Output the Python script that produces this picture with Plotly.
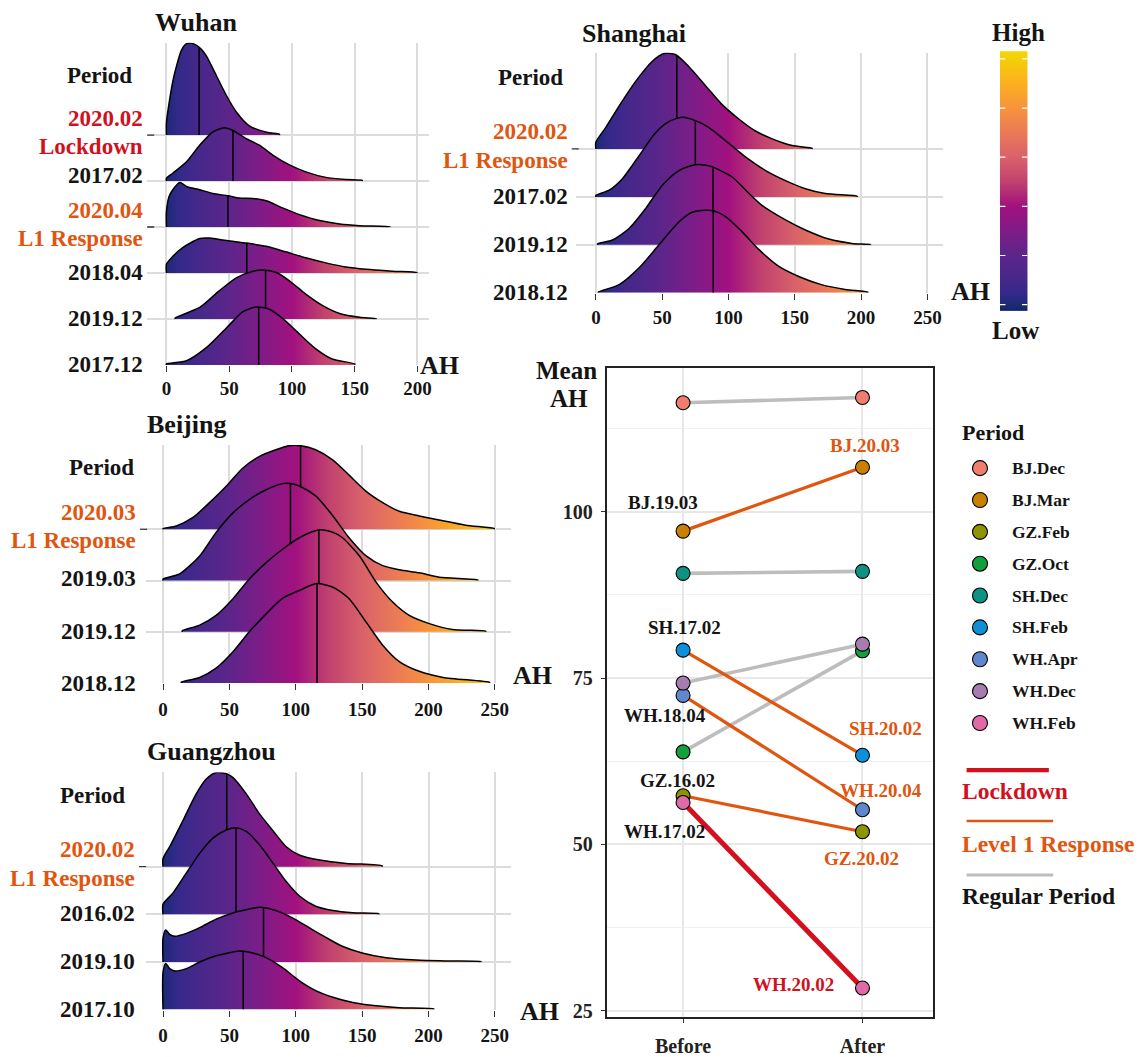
import numpy as np
import plotly.graph_objects as go

W, H = 1141, 1057
SERIF = "Liberation Serif"
RED = "#d2101e"
ORANGE = "#e0550f"
GREY = "#bdbdbd"
INK = "#141414"
GRID = "#dcdcdc"

# ---------------- shared AH colour scale (ridge fills and colour bar) ----------------
ah_stops = [-6.4, 0, 10, 25, 50, 75, 100, 125, 150, 175, 200, 225, 257.7]
ah_colors = ["#14266a", "#1c2a76", "#33298a", "#45288a", "#5c258a", "#7f1c87", "#a2117f",
             "#c1426e", "#d9626a", "#ea7a56", "#f7943c", "#fcb020", "#f2d800"]
AH_MIN, AH_MAX = ah_stops[0], ah_stops[-1]
colorscale = [[(v - AH_MIN) / (AH_MAX - AH_MIN), c] for v, c in zip(ah_stops, ah_colors)]
colorbar_ticks = [0, 50, 100, 150, 200, 250]

# ---------------- ridge densities (x = AH, h = density height in row units) ----------------
# Wuhan
wh_periods = ["2020.02", "2017.02", "2020.04", "2018.04", "2019.12", "2017.12"]
wh_tags = ["Lockdown", "", "L1 Response", "", "", ""]
wh_x = [
    [0, 2.6, 5.3, 8, 12, 16, 20, 24, 28, 32, 40, 48, 56, 66, 80, 90],
    [0, 5, 16, 26.5, 37, 46, 53, 63.6, 74, 85, 98, 111, 127, 143, 156],
    [0, 2.6, 10.6, 16, 26.5, 37, 49, 58, 69, 79.5, 93, 106, 122, 138, 154, 178],
    [0, 2.6, 13, 26.5, 34.5, 48, 64, 79.5, 95, 111, 127, 143, 159, 180, 199.5],
    [7, 26.5, 42, 56, 69, 79, 87.5, 98, 111, 124.5, 138, 154, 167],
    [0, 16, 32, 48, 61, 71.5, 82, 93, 106, 119, 132, 150],
]
wh_h = [
    [0.27, 0.78, 1.2, 1.5, 1.85, 1.99, 2.0, 1.95, 1.86, 1.71, 1.28, 0.85, 0.49, 0.2, 0.06, 0.02],
    [0.06, 0.17, 0.42, 0.78, 1.07, 1.16, 1.10, 0.92, 0.78, 0.56, 0.35, 0.2, 0.08, 0.035, 0.015],
    [0.34, 0.70, 0.97, 0.88, 0.81, 0.73, 0.68, 0.63, 0.62, 0.57, 0.41, 0.27, 0.14, 0.065, 0.03, 0.007],
    [0.19, 0.29, 0.55, 0.75, 0.76, 0.705, 0.65, 0.58, 0.46, 0.33, 0.22, 0.13, 0.08, 0.04, 0.01],
    [0.02, 0.25, 0.61, 0.90, 1.04, 1.06, 1.01, 0.83, 0.54, 0.29, 0.12, 0.036, 0.007],
    [0.02, 0.09, 0.38, 0.81, 1.16, 1.26, 1.21, 1.0, 0.67, 0.35, 0.13, 0.02],
]
wh_median = [26, 53, 49, 64, 79, 73.5]

# Shanghai
sh_periods = ["2020.02", "2017.02", "2019.12", "2018.12"]
sh_tags = ["L1 Response", "", "", ""]
sh_x = [
    [0, 7.5, 17.6, 30, 42.6, 51.4, 60, 70, 83, 95, 108, 120, 133, 148, 163],
    [0, 10, 20, 32.6, 45, 55, 65, 75, 85, 98, 113, 128, 143, 158, 173, 197],
    [1.3, 12.5, 25, 37.6, 50, 62.7, 75, 83, 88.3, 103, 113, 125, 143, 158, 175.6, 193, 207],
    [1.8, 17.6, 32.6, 47.6, 62.7, 72.7, 82.8, 88.5, 97.8, 110, 123, 138, 153, 170, 188, 205],
]
sh_h = [
    [0.14, 0.45, 0.90, 1.41, 1.83, 1.99, 1.97, 1.72, 1.31, 0.93, 0.62, 0.38, 0.21, 0.07, 0.014],
    [0.03, 0.14, 0.38, 0.86, 1.34, 1.57, 1.66, 1.59, 1.45, 1.17, 0.83, 0.55, 0.34, 0.17, 0.07, 0.014],
    [0.02, 0.10, 0.34, 0.76, 1.24, 1.55, 1.67, 1.66, 1.62, 1.41, 1.14, 0.83, 0.52, 0.31, 0.12, 0.03, 0.007],
    [0.014, 0.17, 0.52, 1.0, 1.48, 1.68, 1.72, 1.71, 1.59, 1.28, 0.90, 0.55, 0.34, 0.17, 0.07, 0.014],
]
sh_median = [61, 75, 88.3, 88.5]

# Beijing
bj_periods = ["2020.03", "2019.03", "2019.12", "2018.12"]
bj_tags = ["L1 Response", "", "", ""]
bj_x = [
    [0, 10, 22.6, 35, 47.6, 60, 72.7, 85, 95, 103.6, 115, 128, 140, 153, 165.5, 178, 193, 208, 228, 249.5],
    [0, 12.5, 27.6, 40, 52.7, 65, 77.7, 90, 96, 103, 115, 128, 140, 153, 165.5, 178, 193, 208, 237],
    [14.5, 27.6, 40, 52.7, 65, 77.7, 90, 103, 118, 128, 135, 148, 160.5, 173, 185.5, 200.6, 218, 243],
    [13.8, 27.6, 40, 52.7, 65, 77.7, 90, 103, 115.6, 128, 140, 153, 165.5, 178, 193, 211, 246],
]
bj_h = [
    [0.013, 0.065, 0.23, 0.52, 0.84, 1.19, 1.42, 1.55, 1.63, 1.63, 1.55, 1.35, 1.06, 0.74, 0.52, 0.35, 0.26, 0.18, 0.08, 0.013],
    [0.03, 0.13, 0.48, 0.94, 1.32, 1.58, 1.77, 1.89, 1.89, 1.84, 1.65, 1.26, 0.84, 0.48, 0.29, 0.21, 0.15, 0.065, 0.013],
    [0.02, 0.13, 0.32, 0.645, 1.03, 1.35, 1.61, 1.84, 1.99, 1.94, 1.84, 1.48, 0.97, 0.58, 0.32, 0.16, 0.045, 0.013],
    [0.02, 0.11, 0.29, 0.61, 1.0, 1.35, 1.65, 1.81, 1.94, 1.87, 1.65, 1.19, 0.74, 0.42, 0.23, 0.11, 0.013],
]
bj_median = [103.6, 96, 117.4, 116]

# Guangzhou
gz_periods = ["2020.02", "2016.02", "2019.10", "2017.10"]
gz_tags = ["L1 Response", "", "", ""]
gz_x = [
    [0, 5, 15, 25, 32.6, 40, 48, 52.7, 62.7, 72.7, 82.7, 92.8, 103, 118, 138, 165],
    [0, 7.5, 17.6, 27.6, 37.6, 47.6, 55, 62.7, 72.7, 82.7, 92.8, 103, 115, 128, 143, 162.5],
    [0, 2, 5, 9, 17.6, 27.6, 40, 52.7, 65, 72.7, 85, 97.8, 110, 123, 135, 150, 168, 190.6, 215.6, 239.5],
    [0, 2, 5, 9, 17.6, 27.6, 40, 47.6, 57.7, 67.7, 77.7, 90, 103, 115, 128, 143, 160.5, 178, 204],
]
gz_h = [
    [0.17, 0.42, 0.97, 1.53, 1.84, 1.98, 1.95, 1.87, 1.53, 1.11, 0.76, 0.42, 0.24, 0.14, 0.07, 0.02],
    [0.21, 0.45, 0.87, 1.28, 1.60, 1.77, 1.82, 1.74, 1.46, 1.08, 0.69, 0.38, 0.17, 0.08, 0.035, 0.014],
    [0.5, 0.67, 0.58, 0.54, 0.6, 0.72, 0.9, 1.03, 1.11, 1.15, 1.08, 0.92, 0.72, 0.51, 0.33, 0.19, 0.09, 0.04, 0.02, 0.007],
    [0.78, 0.97, 0.86, 0.81, 0.86, 1.0, 1.13, 1.18, 1.23, 1.19, 1.09, 0.88, 0.6, 0.4, 0.26, 0.15, 0.08, 0.04, 0.014],
]
gz_median = [48, 55, 75.7, 60.4]

# ---------------- mean AH before / after ----------------
groups = ["BJ.Dec", "BJ.Mar", "GZ.Feb", "GZ.Oct", "SH.Dec", "SH.Feb", "WH.Apr", "WH.Dec", "WH.Feb"]
group_colors = ["#f07e6e", "#c98000", "#8c9400", "#13a03c", "#0e9383", "#0f8fd8",
                "#5f88cc", "#a67cb1", "#e06aa5"]
mean_before = [116.4, 97.1, 57.3, 63.9, 90.75, 79.2, 72.4, 74.25, 56.3]
mean_after = [117.2, 106.7, 51.9, 79.1, 91.05, 63.4, 55.2, 80.1, 28.4]
period_type = ["Regular", "Level 1", "Level 1", "Regular", "Regular", "Level 1",
               "Level 1", "Regular", "Lockdown"]
type_names = ["Regular", "Level 1", "Lockdown"]
type_legend = ["Regular Period", "Level 1 Response", "Lockdown"]
type_colors = [GREY, ORANGE, RED]
type_widths = [3.6, 3.2, 5.0]

# point labels: (text, group, side, dx px, dy px, colour)
point_labels = [
    ("BJ.20.03", "BJ.Mar", 2, 3, 22, ORANGE),
    ("BJ.19.03", "BJ.Mar", 1, -20, 29, INK),
    ("SH.17.02", "SH.Feb", 1, 1, 23, INK),
    ("WH.18.04", "WH.Apr", 1, -18, -20, INK),
    ("SH.20.02", "SH.Feb", 2, 23, 27, ORANGE),
    ("GZ.16.02", "GZ.Feb", 1, -6, 15, INK),
    ("WH.20.04", "WH.Apr", 2, 19, 19, ORANGE),
    ("WH.17.02", "WH.Feb", 1, -19, -29, INK),
    ("GZ.20.02", "GZ.Feb", 2, -1, -27, ORANGE),
    ("WH.20.02", "WH.Feb", 2, -69, 3, RED),
]


def px_x(p):
    return p / W


def px_y(p):
    return 1 - p / H


def bold(size, color=INK):
    return dict(family=SERIF, size=size, color=color, weight="bold")


def label(text, x, y, size, color=INK, xanchor="center", **kw):
    """Text placed at a pixel position of the page."""
    d = dict(text=text, xref="paper", yref="paper", x=px_x(x), y=px_y(y),
             xanchor=xanchor, yanchor="middle", showarrow=False, font=bold(size, color),
             align="center")
    d.update(kw)
    return d


fig = go.Figure()
annotations = []
shapes = []

panels = [
    dict(title="Wuhan", periods=wh_periods, tags=wh_tags, xs=wh_x, hs=wh_h, med=wh_median,
         n="", xdom=(147, 430), ydom=(43, 367.7), xr=(-15.7, 209.4), ytop=7.01,
         xticks=[0, 50, 100, 150, 200], lab_r=145.5, title_xy=(196, 23),
         period_xy=(100, 76), ah_xy=(440, 368), stand=0, lift=[0, 6, 0, 0, 0, 0]),
    dict(title="Shanghai", periods=sh_periods, tags=sh_tags, xs=sh_x, hs=sh_h, med=sh_median,
         n="2", xdom=(577, 945), ydom=(53, 295), xr=(-15, 262), ytop=5.01,
         xticks=[0, 50, 100, 150, 200, 250], lab_r=570.7, title_xy=(635, 34),
         period_xy=(531, 78), ah_xy=(972, 294), stand=1, lift=[0, 0, 0, 0]),
    dict(title="Beijing", periods=bj_periods, tags=bj_tags, xs=bj_x, hs=bj_h, med=bj_median,
         n="3", xdom=(146.7, 511.7), ydom=(448.3, 688.3), xr=(-12.5, 262), ytop=4.645,
         xticks=[0, 50, 100, 150, 200, 250], lab_r=138.3, title_xy=(187, 428),
         period_xy=(102, 471), ah_xy=(533, 681), stand=3, lift=[0, 2.5, 0, 0]),
    dict(title="Guangzhou", periods=gz_periods, tags=gz_tags, xs=gz_x, hs=gz_h, med=gz_median,
         n="4", xdom=(146.7, 511.7), ydom=(778.3, 1017.3), xr=(-12.5, 262), ytop=4.98,
         xticks=[0, 50, 100, 150, 200, 250], lab_r=137.3, title_xy=(212, 757),
         period_xy=(93, 802), ah_xy=(540, 1019), stand=3, lift=[0, 1, 0, 0]),
]

for p in panels:
    xa, ya = "x" + p["n"], "y" + p["n"]
    n_rows = len(p["periods"])
    for i, (x, h) in enumerate(zip(p["xs"], p["hs"])):
        base = n_rows - 1 - i
        xx = [x[0]] + list(x) + [x[-1]]
        yy = [base] + [base + v for v in h] + [base]
        # baseline the ridge is filled down to
        fig.add_trace(go.Scatter(x=[xx[0], xx[-1]], y=[base, base], mode="lines",
                                 line=dict(width=0, color="rgba(0,0,0,0)"),
                                 xaxis=xa, yaxis=ya, showlegend=False, hoverinfo="skip"))
        fig.add_trace(go.Scatter(
            x=xx, y=yy, mode="lines", fill="tonexty",
            fillgradient=dict(type="horizontal", colorscale=colorscale,
                              start=AH_MIN, stop=AH_MAX),
            line=dict(color="black", width=1.5, shape="spline", smoothing=0.7),
            xaxis=xa, yaxis=ya, showlegend=False, hoverinfo="skip"))
        m = p["med"][i]
        top = base + float(np.interp(m, x, h))
        fig.add_trace(go.Scatter(x=[m, m], y=[base, top], mode="lines",
                                 line=dict(color="black", width=1.5),
                                 xaxis=xa, yaxis=ya, showlegend=False, hoverinfo="skip"))
        # period label on the left (two lines for the response periods)
        tag = p["tags"][i]
        common = dict(xref="paper", yref=ya, x=px_x(p["lab_r"]), y=base,
                      xanchor="right", yanchor="middle", showarrow=False)
        if tag:
            col = RED if tag == "Lockdown" else ORANGE
            annotations.append(dict(text=p["periods"][i], yshift=17,
                                    font=bold(23, col), **common))
            annotations.append(dict(text=tag, yshift=-11.5, font=bold(23, col), **common))
            shapes.append(dict(type="line", xref="paper", yref=ya,
                               x0=px_x(p["lab_r"] + 2), x1=px_x(p["lab_r"] + 9),
                               y0=base, y1=base, line=dict(color="#333", width=1.3)))
        else:
            annotations.append(dict(text=p["periods"][i], yshift=p["lift"][i],
                                    font=bold(23), **common))

    fig.update_layout(**{
        ("xaxis" + p["n"]): dict(domain=[px_x(p["xdom"][0]), px_x(p["xdom"][1])], anchor=ya,
                                 range=list(p["xr"]), tickvals=p["xticks"], ticks="outside",
                                 ticklen=6, tickwidth=1.3, tickcolor="#333",
                                 showgrid=True, gridcolor=GRID, gridwidth=1.6, zeroline=False,
                                 showline=False, tickfont=bold(19), ticklabelstandoff=p["stand"]),
        ("yaxis" + p["n"]): dict(domain=[px_y(p["ydom"][1]), px_y(p["ydom"][0])], anchor=xa,
                                 range=[0, p["ytop"]], tickvals=list(range(n_rows)),
                                 showticklabels=False, ticks="", showgrid=True, gridcolor=GRID,
                                 gridwidth=1.6, zeroline=False, showline=False),
    })
    annotations.append(label(p["title"], *p["title_xy"], 26))
    annotations.append(label("Period", *p["period_xy"], 23))
    annotations.append(label("AH", *p["ah_xy"], 26))

# ---------------- slope chart of mean AH ----------------
for t, col, lw in zip(type_names, type_colors, type_widths):
    for g, b, a, pt in zip(groups, mean_before, mean_after, period_type):
        if pt == t:
            fig.add_trace(go.Scatter(x=[1, 2], y=[b, a], mode="lines",
                                     line=dict(color=col, width=lw),
                                     xaxis="x5", yaxis="y5", showlegend=False, hoverinfo="skip"))
for g, col, b, a in zip(groups, group_colors, mean_before, mean_after):
    fig.add_trace(go.Scatter(x=[1, 2], y=[b, a], mode="markers",
                             marker=dict(size=14, color=col, line=dict(color="black", width=1.1)),
                             xaxis="x5", yaxis="y5", showlegend=False, hoverinfo="skip"))
for text, g, side, dxp, dyp, col in point_labels:
    k = groups.index(g)
    val = mean_before[k] if side == 1 else mean_after[k]
    annotations.append(dict(text=text, xref="x5", yref="y5", x=side, y=val, xshift=dxp,
                            yshift=dyp, xanchor="center", yanchor="middle",
                            showarrow=False, font=bold(19, col)))

fig.update_layout(
    xaxis5=dict(domain=[px_x(607.7), px_x(935)], anchor="y5", range=[0.574, 2.395],
                tickvals=[1, 2], ticktext=["Before", "After"], ticks="outside", ticklen=4,
                tickcolor="#333", showgrid=True, gridcolor="#e8e8e8", gridwidth=1.5,
                zeroline=False, showline=True, mirror=True, linecolor="#222", linewidth=1.6,
                tickfont=bold(20, "#222"), ticklabelstandoff=6),
    yaxis5=dict(domain=[px_y(1025), px_y(371)], anchor="x5", range=[24.0, 121.6],
                tickvals=[25, 50, 75, 100], ticks="outside", ticklen=4, tickcolor="#333",
                showgrid=True, gridcolor="#e8e8e8", gridwidth=1.5, zeroline=False,
                showline=True, mirror=True, linecolor="#222", linewidth=1.6,
                tickfont=bold(20, "#222"), ticklabelstandoff=4,
                minor=dict(tickvals=[37.5, 62.5, 87.5, 112.5], showgrid=True,
                           gridcolor="#f0f0f0", gridwidth=1.0, ticks="")),
)
annotations.append(label("Mean", 567, 373, 25))
annotations.append(label("AH", 570, 402, 25))

# ---------------- colour bar ----------------
cb_vals = np.linspace(AH_MIN, AH_MAX, 300)
fig.add_trace(go.Heatmap(x=[0], y=cb_vals, z=[[v] for v in cb_vals], colorscale=colorscale,
                         zmin=AH_MIN, zmax=AH_MAX, showscale=False, hoverinfo="skip",
                         xaxis="x6", yaxis="y6"))
fig.update_layout(
    xaxis6=dict(domain=[px_x(1001.7), px_x(1029.3)], anchor="y6", range=[-0.5, 0.5],
                visible=False, fixedrange=True),
    yaxis6=dict(domain=[px_y(313.3), px_y(51.7)], anchor="x6", range=[AH_MIN, AH_MAX],
                visible=False, fixedrange=True),
)
for t in colorbar_ticks:
    for x0, x1 in ((-0.5, -0.3), (0.3, 0.5)):
        shapes.append(dict(type="line", xref="x6", yref="y6", x0=x0, x1=x1, y0=t, y1=t,
                           line=dict(color="white", width=1.2)))
annotations.append(label("High", 1020, 33, 25))
annotations.append(label("Low", 1017, 333, 25))

# ---------------- legend (drawn on a pixel-space overlay) ----------------
leg_x, leg_y0, leg_dy = 981.7, 471.7, 32.1
leg_y = [leg_y0 + leg_dy * i for i in range(len(groups))]
fig.add_trace(go.Scatter(x=[leg_x] * len(groups), y=leg_y, mode="markers",
                         marker=dict(size=15, color=group_colors,
                                     line=dict(color="black", width=1.1)),
                         xaxis="x7", yaxis="y7", showlegend=False, hoverinfo="skip"))
for g, yy in zip(groups, leg_y):
    annotations.append(label(g, 1011.7, yy, 17.5, xanchor="left"))
annotations.append(label("Period", 995, 436, 22))

line_keys = [("Lockdown", 776, 1050.7, 797, RED), ("Level 1", 827.3, 1055, 850, ORANGE),
             ("Regular", 881.7, 1055, 903, INK)]
for key, ly, lx1, ty, tcol in line_keys:
    k = type_names.index(key)
    fig.add_trace(go.Scatter(x=[968.3, lx1], y=[ly, ly], mode="lines",
                             line=dict(color=type_colors[k], width=type_widths[k] - 0.6),
                             xaxis="x7", yaxis="y7", showlegend=False, hoverinfo="skip"))
    annotations.append(label(type_legend[k], 962, ty, 23.5, tcol, xanchor="left"))

fig.update_layout(
    xaxis7=dict(domain=[0, 1], anchor="y7", range=[0, W], visible=False, fixedrange=True),
    yaxis7=dict(domain=[0, 1], anchor="x7", range=[H, 0], visible=False, fixedrange=True),
)

fig.update_layout(
    width=W, height=H, margin=dict(l=0, r=0, t=0, b=0),
    paper_bgcolor="white", plot_bgcolor="rgba(0,0,0,0)",
    showlegend=False, annotations=annotations, shapes=shapes,
    font=dict(family=SERIF, color=INK),
)

fig.write_html("out.html")
